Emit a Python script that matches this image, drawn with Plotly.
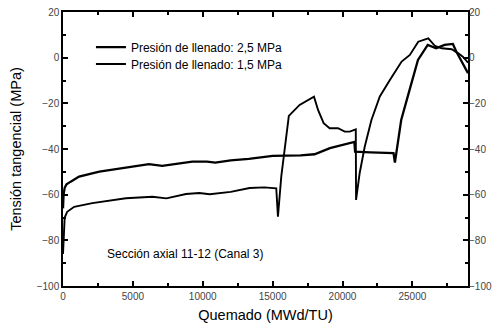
import plotly.graph_objects as go

# Burnup (MWd/TU) and hoop stress (MPa) for each fill pressure
burnup_25 = [0, 40, 120, 250, 550, 1150, 2600, 4500, 6150, 7100, 9250, 10300, 10900,
             12000, 13300, 15000, 17000, 18000, 19100, 20850, 20900, 22000, 23650,
             23750, 23850, 24200, 24800, 25400, 26100, 26700, 27300, 27900, 28150, 28980]
stress_25 = [-66, -60, -57, -55.5, -54.3, -52.1, -49.9, -48, -46.6, -47.4, -45.5, -45.5, -46,
             -45, -44.3, -43, -42.8, -42.3, -39.6, -36.9, -41.2, -41.5, -41.8,
             -46, -41.8, -27.3, -14.1, -1, 5.6, 4.1, 5.6, 6, 2.6, -6.8]

burnup_15 = [0, 50, 120, 300, 800, 2100, 4500, 6400, 7400, 8800, 9750, 10500, 12000,
             13350, 14400, 15260, 15380, 15620, 16160, 16930, 17960, 18250, 18650,
             19080, 19680, 20160, 20520, 20950, 20970, 21230, 21590, 22070, 22670,
             23390, 23870, 24230, 24820, 25420, 26140, 26620, 27100, 27810, 28290,
             28630, 28980]
stress_15 = [-86, -76, -70, -67.5, -65.3, -63.7, -61.6, -60.9, -61.6, -59.7, -59.3, -59.8, -58.8,
             -57.1, -56.8, -57.2, -69.6, -52, -25.5, -20.7, -17.1, -22.9, -28.7,
             -30.9, -30.9, -32.4, -32.4, -31.4, -62.3, -50.5, -39, -27.3, -17,
             -9.8, -5.4, -1.7, 1.2, 7, 8.5, 5.1, 4.1, 3.7, 1.9,
             0.3, -2.2]

x_ticks = [0, 5000, 10000, 15000, 20000, 25000]
y_ticks = [20, 0, -20, -40, -60, -80, -100]

font = "Liberation Sans, Arial, sans-serif"

fig = go.Figure()
fig.add_trace(go.Scatter(x=burnup_25, y=stress_25, mode="lines",
                         name="Presión de llenado: 2,5 MPa", legend="legend",
                         line=dict(color="black", width=2.3)))
fig.add_trace(go.Scatter(x=burnup_15, y=stress_15, mode="lines",
                         name="Presión de llenado: 1,5 MPa", legend="legend2",
                         line=dict(color="black", width=1.9)))
# invisible trace carrying the right-hand axis
fig.add_trace(go.Scatter(x=[0], y=[0], yaxis="y2", mode="lines",
                         showlegend=False, hoverinfo="skip",
                         line=dict(color="rgba(0,0,0,0)")))

axis_common = dict(showgrid=False, zeroline=False, showline=True, linecolor="black",
                   linewidth=1.5, ticks="inside", ticklen=5, tickwidth=1.5,
                   tickcolor="black", automargin=False,
                   tickfont=dict(family=font, size=10, color="#444"))

legend_common = dict(xanchor="left", yanchor="middle", bgcolor="rgba(0,0,0,0)",
                     font=dict(family=font, size=12), itemwidth=30)

fig.update_layout(
    width=501, height=331,
    margin=dict(l=63, r=33, t=12, b=45, autoexpand=False),
    paper_bgcolor="white", plot_bgcolor="white",
    font=dict(family=font, color="black"),
    xaxis=dict(range=[0, 28980], tickvals=x_ticks, tickformat="d", mirror="ticks",
               minor=dict(ticks="inside", ticklen=3, tickwidth=1.5, dtick=2500,
                          tick0=0, tickcolor="black"),
               title=dict(text="Quemado (MWd/TU)", font=dict(family=font, size=14.5),
                          standoff=9),
               **axis_common),
    yaxis=dict(range=[-100, 20], tickvals=y_ticks, mirror="ticks",
               minor=dict(ticks="inside", ticklen=3, tickwidth=1.5, dtick=10,
                          tick0=0, tickcolor="black"),
               title=dict(text="Tensión tangencial (MPa)", font=dict(family=font, size=14.5),
                          standoff=12),
               **axis_common),
    yaxis2=dict(range=[-100, 20], tickvals=y_ticks, overlaying="y", side="right",
                anchor="x", showgrid=False, zeroline=False, showline=False,
                ticks="", automargin=False,
                tickfont=dict(family=font, size=10, color="#444")),
    legend=dict(x=0.069, y=0.872, **legend_common),
    legend2=dict(x=0.069, y=0.810, **legend_common),
    annotations=[dict(text="Sección axial 11-12 (Canal 3)", xref="paper", yref="paper",
                      x=0.103, y=0.118, xanchor="left", yanchor="middle",
                      showarrow=False, font=dict(family=font, size=12))],
)

fig.write_html("out.html")
